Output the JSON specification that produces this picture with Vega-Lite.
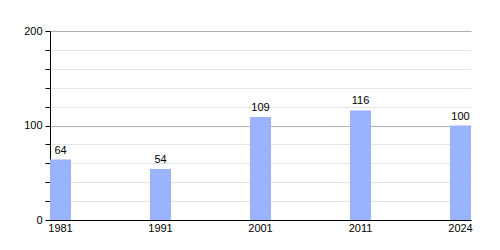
{
  "$schema": "https://vega.github.io/schema/vega-lite/v6.json",
  "autosize": {"type": "none"},
  "padding": {"left": 50, "top": 31, "right": 29, "bottom": 30},
  "width": 421,
  "height": 189,
  "background": "white",
  "config": {
    "view": {"stroke": null},
    "font": "Liberation Sans",
    "axis": {"labelFont": "Liberation Sans", "labelFontSize": 11, "labelColor": "#000"}
  },
  "data": {
    "values": [
      {"year": "1981", "pop": 64},
      {"year": "1991", "pop": 54},
      {"year": "2001", "pop": 109},
      {"year": "2011", "pop": 116},
      {"year": "2024", "pop": 100}
    ]
  },
  "encoding": {
    "x": {
      "field": "year", "type": "ordinal", "sort": null,
      "scale": {"paddingInner": 0.79, "paddingOuter": 0},
      "axis": {"title": null, "labelAngle": 0, "ticks": false, "domainColor": "#000", "domainWidth": 1, "labelPadding": 2, "grid": false}
    },
    "y": {
      "field": "pop", "type": "quantitative",
      "scale": {"domain": [0, 200], "nice": false},
      "axis": {
        "title": null,
        "values": [0, 20, 40, 60, 80, 100, 120, 140, 160, 180, 200],
        "labelExpr": "datum.value % 100 === 0 ? datum.label : ''",
        "grid": true,
        "gridColor": {"condition": {"test": "datum.value % 100 === 0", "value": "#b0b0b0"}, "value": "#e4e4e4"},
        "gridWidth": 1,
        "ticks": true, "tickColor": "#000", "tickSize": 5,
        "domain": true, "domainColor": "#000",
        "labelPadding": 3
      }
    }
  },
  "layer": [
    {
      "mark": {"type": "bar", "color": "#99b3ff"}
    },
    {
      "mark": {"type": "text", "dy": -9, "fontSize": 11, "color": "#000", "font": "Liberation Sans"},
      "encoding": {
        "text": {"field": "pop", "type": "quantitative"}
      }
    }
  ]
}
